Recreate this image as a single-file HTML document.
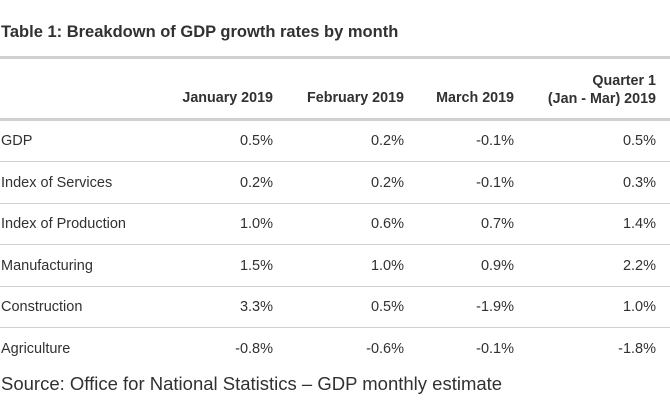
<!DOCTYPE html>
<html><head><meta charset="utf-8"><style>
body{margin:0;width:670px;height:402px;background:#fff;font-family:"Liberation Sans",sans-serif;color:#323132;position:relative;overflow:hidden}
.a{position:absolute;white-space:nowrap}
.t{font-weight:bold;font-size:16.5px;left:1px;top:23px}
.h{font-weight:bold;font-size:14.3px;text-align:right}
.c{font-size:14.5px}
.r{text-align:right}
.line{position:absolute;left:0;width:670px;background:#d0d0d0}
</style></head><body>
<div class="a t">Table 1: Breakdown of GDP growth rates by month</div>
<div class="line" style="top:56px;height:3px"></div>
<div class="a h" style="right:397px;top:90px">January 2019</div>
<div class="a h" style="right:266px;top:90px">February 2019</div>
<div class="a h" style="right:156px;top:90px">March 2019</div>
<div class="a h" style="right:14px;top:72px;line-height:18px">Quarter 1<br>(Jan - Mar) 2019</div>
<div class="line" style="top:118px;height:3px"></div>
<div class="a" style="left:1px;top:373px;font-size:18.5px">Source: Office for National Statistics – GDP monthly estimate</div>
<script>
const labels=["GDP","Index of Services","Index of Production","Manufacturing","Construction","Agriculture"];
const jan=["0.5%","0.2%","1.0%","1.5%","3.3%","-0.8%"];
const feb=["0.2%","0.2%","0.6%","1.0%","0.5%","-0.6%"];
const mar=["-0.1%","-0.1%","0.7%","0.9%","-1.9%","-0.1%"];
const q1=["0.5%","0.3%","1.4%","2.2%","1.0%","-1.8%"];
const cols=[jan,feb,mar,q1];
const rights=[397,266,156,14];
const body=document.body;
labels.forEach((lab,i)=>{
  const top=133+i*41.6;
  const l=document.createElement('div');
  l.className='a c';l.style.left='1px';l.style.top=top+'px';l.textContent=lab;
  
  
  body.appendChild(l);
  cols.forEach((col,j)=>{
    const d=document.createElement('div');
    d.className='a c r';d.style.right=rights[j]+'px';d.style.top=top+'px';d.textContent=col[i];
    
    
    body.appendChild(d);
  });
  if(i<labels.length-1){
    const ln=document.createElement('div');
    ln.className='line';ln.style.top=(161+i*41.6)+'px';ln.style.height='1px';
    
    
    body.appendChild(ln);
  }
});
</script>
</body></html>
